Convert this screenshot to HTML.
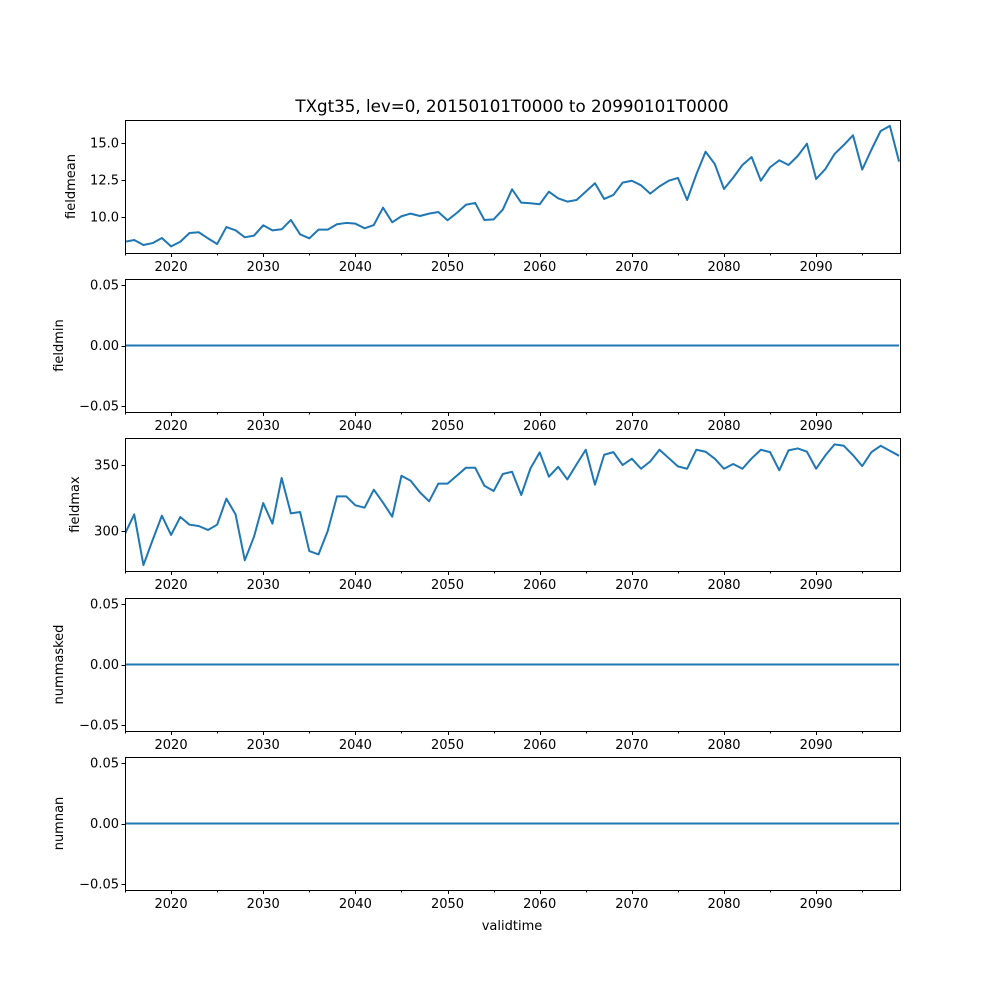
<!DOCTYPE html>
<html><head><meta charset="utf-8"><style>
body{margin:0;background:#fff}
svg{display:block;font-family:"DejaVu Sans","Liberation Sans",sans-serif}
</style></head><body>
<svg id="chart" width="1000" height="1000" xmlns="http://www.w3.org/2000/svg">
<rect width="1000" height="1000" fill="#fff"/>
<text x="512" y="112" font-size="16.7" text-anchor="middle">TXgt35, lev=0, 20150101T0000 to 20990101T0000</text>
<text x="512" y="930" font-size="13" text-anchor="middle">validtime</text>
</svg>
<script>
const years = [];
for (let y = 2015; y <= 2099; y++) years.push(y);
const fieldmean = [8.33,8.45,8.11,8.24,8.58,8.02,8.33,8.92,8.97,8.56,8.18,9.32,9.10,8.63,8.74,9.44,9.10,9.17,9.80,8.83,8.56,9.15,9.15,9.51,9.60,9.55,9.24,9.46,10.63,9.64,10.05,10.23,10.07,10.23,10.34,9.78,10.27,10.83,10.95,9.80,9.84,10.50,11.87,10.97,10.93,10.86,11.71,11.26,11.04,11.15,11.71,12.28,11.22,11.49,12.32,12.45,12.14,11.58,12.07,12.45,12.64,11.15,12.88,14.41,13.58,11.89,12.66,13.51,14.05,12.45,13.36,13.83,13.51,14.12,14.95,12.57,13.24,14.26,14.86,15.52,13.20,14.55,15.81,16.15,13.74];
const fieldmin = years.map(() => 0);
const fieldmax = [298.0,312.6,274.2,293.2,311.6,297.0,310.6,304.8,303.8,300.8,304.8,324.5,312.6,277.8,295.7,321.2,305.6,340.2,313.4,314.4,284.8,282.3,300,326.3,326.3,319.5,317.7,331.3,321.5,310.9,341.9,338.1,329.3,322.5,335.9,335.9,341.9,348.0,348.0,334.3,330.3,343.2,344.9,327.3,347.5,359.6,341.2,348.7,339.1,350.5,361.6,335.1,357.8,359.8,350,354.8,347.2,352.8,361.6,355.3,349,347.2,361.6,360.1,354.8,347.2,350.8,347.2,355,361.6,359.8,346,361.1,362.6,360.1,347.2,357.3,365.7,364.6,357.5,349.2,359.8,364.6,360.8,357];
const nummasked = years.map(() => 0);
const numnan = years.map(() => 0);
const xTicks = [2020,2030,2040,2050,2060,2070,2080,2090];
const xMinor = [2015,2025,2035,2045,2055,2065,2075,2085,2095];
const smallTicks = [-0.05,0,0.05];
const smallLabels = ["\u22120.05","0.00","0.05"];

const svg = document.getElementById('chart');
const NS = 'http://www.w3.org/2000/svg';
const L = 125, R = 900, X0 = 2015, X1 = 2099.1;
const xs = v => L + (v - X0) / (X1 - X0) * (R - L);
function mk(tag, attrs, parent){const e=document.createElementNS(NS,tag);for(const k in attrs)e.setAttribute(k,attrs[k]);(parent||svg).appendChild(e);return e;}

const panels = [
 {name:'fieldmean', top:120, bot:253, lo:7.57, hi:16.55, data:fieldmean, ticks:[10,12.5,15], labels:["10.0","12.5","15.0"], lx:75},
 {name:'fieldmin', top:279, bot:412, lo:-0.055, hi:0.055, data:fieldmin, ticks:smallTicks, labels:smallLabels, lx:63},
 {name:'fieldmax', top:438, bot:571, lo:269.7, hi:370.5, data:fieldmax, ticks:[300,350], labels:["300","350"], lx:79},
 {name:'nummasked', top:598, bot:731, lo:-0.055, hi:0.055, data:nummasked, ticks:smallTicks, labels:smallLabels, lx:63},
 {name:'numnan', top:757, bot:890, lo:-0.055, hi:0.055, data:numnan, ticks:smallTicks, labels:smallLabels, lx:63}
];
panels.forEach(p => {
  const g = mk('g', {});
  
  
  const ys = v => p.bot - (v - p.lo) / (p.hi - p.lo) * (p.bot - p.top);
  const d = p.data.map((v,i) => (i?'L':'M') + xs(years[i]).toFixed(2) + ',' + ys(v).toFixed(2)).join('');
  const clip = mk('clipPath', {id:'c-'+p.name}, g);
  mk('rect', {x:L, y:p.top, width:R-L, height:p.bot-p.top}, clip);
  const line = mk('path', {d:d, fill:'none', stroke:'#1f77b4', 'stroke-width':2, 'stroke-linejoin':'round', 'clip-path':'url(#c-'+p.name+')'}, g);
  
  
  const frame = mk('rect', {x:L+0.5, y:p.top+0.5, width:R-L, height:p.bot-p.top, fill:'none', stroke:'#000', 'stroke-width':1}, g);
  
  
  xTicks.forEach(t => {
    const xx = Math.round(xs(t)) + 0.5;
    mk('line', {x1:xx, x2:xx, y1:p.bot, y2:p.bot+4, stroke:'#000'}, g);
    const tx = mk('text', {x:xs(t), y:p.bot+18, 'font-size':13, 'text-anchor':'middle'}, g);
    tx.textContent = t;
    
    
  });
  xMinor.forEach(t => { const xx = Math.round(xs(t)) + 0.5; mk('line', {x1:xx, x2:xx, y1:p.bot, y2:p.bot+2.5, stroke:'#000', 'stroke-width':1}, g); });
  p.ticks.forEach((t,i) => {
    const yy = Math.round(ys(t)) + 0.5;
    mk('line', {x1:L-3.5, x2:L, y1:yy, y2:yy, stroke:'#000'}, g);
    const tx = mk('text', {x:L-6, y:ys(t)+4.5, 'font-size':13, 'text-anchor':'end'}, g);
    tx.textContent = p.labels[i];
    
    
  });
  const cy = (p.top + p.bot) / 2;
  const yl = mk('text', {x:p.lx, y:cy, 'font-size':13, 'text-anchor':'middle', transform:'rotate(-90 '+p.lx+' '+cy+')'}, g);
  yl.textContent = p.name;
  
  
});
</script>
</body></html>
